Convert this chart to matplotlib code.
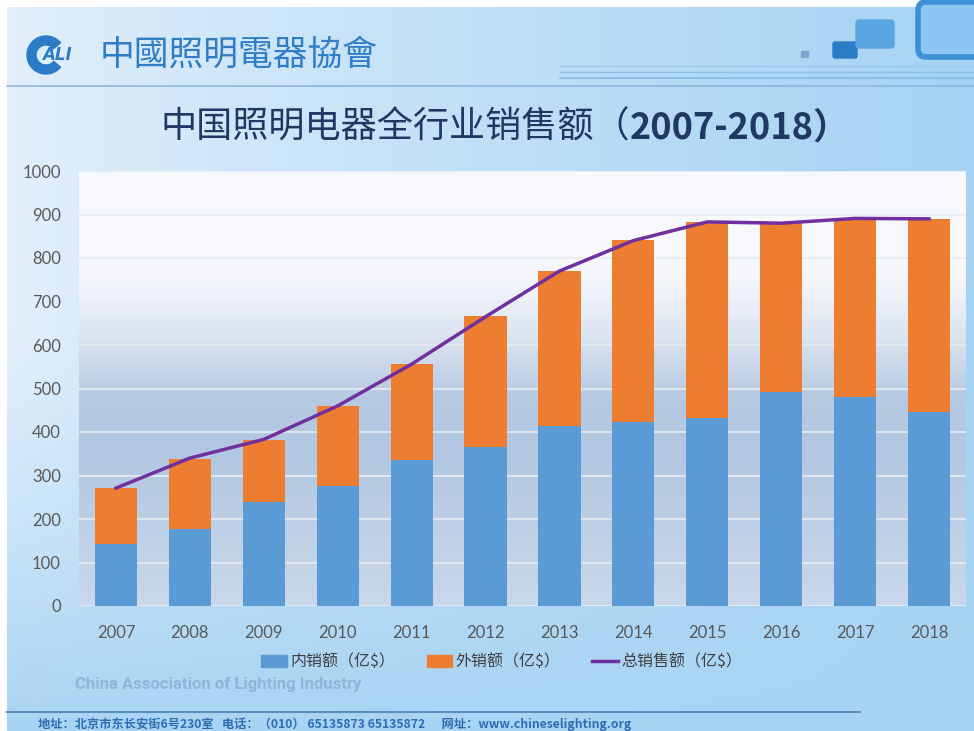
import numpy as np
import matplotlib
matplotlib.use("Agg")
import matplotlib.pyplot as plt
from matplotlib.patches import Rectangle, FancyBboxPatch, Wedge
from matplotlib.lines import Line2D
from matplotlib.colors import LinearSegmentedColormap, to_rgb
from matplotlib.transforms import IdentityTransform

plt.rcParams['font.family'] = ['Noto Sans CJK SC', 'DejaVu Sans']

years = ["2007", "2008", "2009", "2010", "2011", "2012",
         "2013", "2014", "2015", "2016", "2017", "2018"]
domestic = [142, 177, 239, 276, 336, 366, 414, 424, 433, 493, 480, 447]
export = [129, 161, 142, 184, 220, 301, 356, 417, 450, 387, 410, 443]
total = [271, 340, 383, 460, 556, 665, 770, 840, 883, 880, 891, 890]

W, H = 974, 731
fig = plt.figure(figsize=(W / 100, H / 100), dpi=100)

# slide background
bg = fig.add_axes([0, 0, 1, 1], zorder=-10)
xx = np.linspace(0, 1, W)[None, :, None]
yy = np.linspace(0, 1, H)[:, None, None]
left_c = np.array(to_rgb("#e4f0fb"))
right_c = np.array(to_rgb("#a6d3f3"))
img = left_c * (1 - xx ** 0.8) + right_c * xx ** 0.8
bottom_c = np.array(to_rgb("#a8d4f3"))
wv = np.clip((yy - 0.45) / 0.55, 0, 1) ** 1.2
img = img * (1 - wv) + bottom_c * wv
img = np.broadcast_to(img, (H, W, 3)).copy()
img[:7, :, :] = 1.0
img[:, :7, :] = 1.0
bg.imshow(img, extent=[0, W, H, 0], aspect="auto")
bg.set_xlim(0, W)
bg.set_ylim(H, 0)
bg.axis("off")

# header decorations
for yl, c, lw in [(66, "#9cc8ea", 1), (72, "#8fc0e8", 1), (78, "#86bbe6", 1.2)]:
    bg.plot([560, W], [yl, yl], color=c, lw=lw)
bg.plot([7, W], [86, 86], color="#8db7dd", lw=1.2)
bg.add_patch(Rectangle((801, 51), 7, 6, color="#7aa6cf"))
bg.add_patch(FancyBboxPatch((833, 42), 24, 16, boxstyle="round,pad=0,rounding_size=2",
                            color="#2a7cc7"))
bg.add_patch(FancyBboxPatch((856, 20), 38, 28, boxstyle="round,pad=0,rounding_size=3",
                            color="#5aa6e2"))
bg.add_patch(FancyBboxPatch((918, 2), 80, 55, boxstyle="round,pad=0,rounding_size=8",
                            facecolor="#8cc6f2", edgecolor="#3d8fd6", lw=4))

# logo
bg.add_patch(Wedge((46, 55), 19, 40, 320, width=9, color="#2a7cc7"))
bg.text(57, 55, "ALI", color="#2a7cc7", fontsize=12, fontweight="bold",
        ha="center", va="center", family=["DejaVu Sans"], style="italic")
bg.text(100, 55, "中國照明電器協會", color="#2f7dc6", fontsize=25,
        ha="left", va="center", family=["Noto Sans CJK TC", "DejaVu Sans"])

# title: CJK part regular, years part bold
t1 = bg.text(160, 128, "中国照明电器全行业销售额（", color="#1f3864", fontsize=26,
             ha="left", va="center", fontweight="medium")
fig.canvas.draw()
bb = t1.get_window_extent()
bg.text(bb.x1, (bb.y0 + bb.y1) / 2, "2007-2018）", color="#1f3864",
        fontsize=26, ha="left", va="center", fontweight="bold",
        transform=IdentityTransform())

# footer
bg.add_patch(Wedge((35, 685), 19, 40, 320, width=9, color="#b4d5ef", alpha=0.8))
bg.text(46, 685, "ALI", color="#b4d5ef", fontsize=12, fontweight="bold",
        ha="center", va="center", family=["DejaVu Sans"], style="italic")
bg.text(75, 685, "China Association of Lighting Industry", color="#8fb6d8",
        fontsize=12, fontweight="bold", ha="left", va="center",
        family=["Roboto", "DejaVu Sans"])
bg.plot([7, 860], [712, 712], color="#5c8fbd", lw=1.5)
bg.text(38, 724, "地址：北京市东长安街6号230室   电话：（010） 65135873 65135872      网址：www.chineselighting.org",
        color="#2f6db3", fontsize=8.8, fontweight="bold", ha="left", va="center")

# chart
ax = fig.add_axes([79 / W, 1 - 606 / H, (966 - 79) / W, (606 - 171) / H])
ax.set_xlim(-0.5, len(years) - 0.5)
ax.set_ylim(0, 1000)

grad_cmap = LinearSegmentedColormap.from_list("plotbg", [
    (0.0, "#c9d8ea"), (0.12, "#c2d3e7"), (0.35, "#b2c7e1"), (0.48, "#b6cae2"),
    (0.62, "#dbe4f0"), (0.72, "#f0f3f9"), (0.8, "#f8f9fc"), (1.0, "#f7f8fb")])
ax.imshow(np.linspace(0, 1, 256)[:, None], cmap=grad_cmap, origin="lower",
          extent=[-0.5, len(years) - 0.5, 0, 1000], aspect="auto", zorder=0)

x = np.arange(len(years))
ax.bar(x, domestic, width=0.57, color="#5b9bd5", zorder=3, label="内销额（亿$）")
ax.bar(x, export, width=0.57, bottom=domestic, color="#ed7d31", zorder=3,
       label="外销额（亿$）")
ax.plot(x, total, color="#7030a0", lw=2.5, zorder=4, label="总销售额（亿$）")

ax.set_yticks(range(0, 1001, 100))
ax.yaxis.grid(True, color="#e8ecf3", lw=1.2, zorder=1)
ax.set_axisbelow(True)
for s in ax.spines.values():
    s.set_visible(False)
ax.set_xticks(x)
ax.set_xticklabels(years)
ax.tick_params(length=0, labelsize=12, labelcolor="#595959")
ax.tick_params(axis="x", pad=14)
ax.tick_params(axis="y", pad=13)
for lab in ax.get_xticklabels() + ax.get_yticklabels():
    lab.set_family(["Lato", "DejaVu Sans"])

handles = [Rectangle((0, 0), 1, 1, color="#5b9bd5"),
           Rectangle((0, 0), 1, 1, color="#ed7d31"),
           Line2D([0], [0], color="#7030a0", lw=2.5)]
fig.legend(handles, ["内销额（亿$）", "外销额（亿$）", "总销售额（亿$）"],
           loc="center", bbox_to_anchor=(0.515, 1 - 662 / H), ncol=3, frameon=False,
           fontsize=11.5, labelcolor="#404040", handlelength=1.6, handleheight=0.7,
           handletextpad=0.2, columnspacing=2.0)

fig.savefig("out.png", dpi=100)
